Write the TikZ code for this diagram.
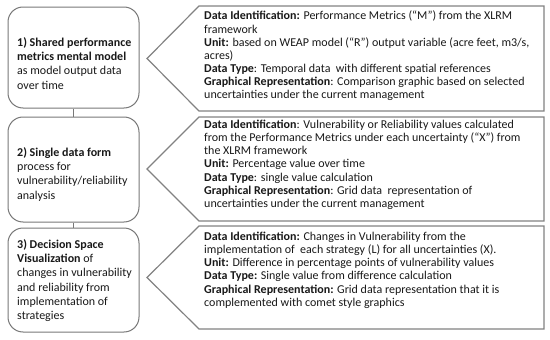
\documentclass[tikz,border=0pt]{standalone}
\usepackage{fontspec}
\setmainfont{Carlito}
\begin{document}
\begin{tikzpicture}[x=1pt,y=-1pt,
  leftbox/.style={draw={rgb,255:red,120;green,120;blue,120}, line width=1pt, rounded corners=15pt, fill=white, inner sep=0pt},
  lefttext/.style={anchor=north west, inner sep=0pt, align=left, font=\fontsize{12}{14.3}\selectfont, text=black!90},
  callout/.style={draw={rgb,255:red,130;green,130;blue,130}, line width=1.2pt, line join=miter, fill=white},
  rtext/.style={anchor=north west, inner sep=0pt, align=left, font=\fontsize{12}{13.1}\selectfont, text=black!90},
  link/.style={draw={rgb,255:red,120;green,120;blue,120}, line width=1pt}]
\useasboundingbox (0,0) rectangle (550,340);

% left boxes
\node[leftbox, minimum width=131pt, minimum height=101pt] (b1) at (73.5,57.5) {};
\node[leftbox, minimum width=131pt, minimum height=105pt] (b2) at (73.5,169.5) {};
\node[leftbox, minimum width=131pt, minimum height=104pt] (b3) at (73.5,280) {};
\draw[link] (b1.south) -- (b2.north);
\draw[link] (b2.south) -- (b3.north);

\node[lefttext] (t1) at (17,37) {\textbf{1) Shared performance}\\\textbf{metrics mental model}\\as model output data\\over time};
\node[lefttext] (t2) at (17,147) {\textbf{2) Single data form}\\process for\\vulnerability/reliability\\analysis};
\node[lefttext] (t3) at (17,239) {\textbf{3) Decision Space}\\\textbf{Visualization} of\\changes in vulnerability\\and reliability from\\implementation of\\strategies};

% callouts
\coordinate (p1) at (147,58.5);
\coordinate (p2) at (147,169);
\coordinate (p3) at (147,277.5);
\draw[callout] (p1) -- (199,6) -- (544,6) -- (544,111) -- (199,111) -- cycle;
\draw[callout] (p2) -- (199,117) -- (544,117) -- (544,221) -- (199,221) -- cycle;
\draw[callout] (p3) -- (199,226) -- (544,226) -- (544,329) -- (199,329) -- cycle;

\node[rtext] (r1) at (204,11) {\textbf{Data Identification:} Performance Metrics (“M”) from the XLRM\\framework\\\textbf{Unit:} based on WEAP model (“R”) output variable (acre feet, m3/s,\\acres)\\\textbf{Data Type}: Temporal data\ \ with different spatial references\\\textbf{Graphical Representation}: Comparison graphic based on selected\\uncertainties under the current management};
\node[rtext] (r2) at (204,120) {\textbf{Data Identification}: Vulnerability or Reliability values calculated\\from the Performance Metrics under each uncertainty (“X”) from\\the XLRM framework\\\textbf{Unit:} Percentage value over time\\\textbf{Data Type}: single value calculation\\\textbf{Graphical Representation}: Grid data\ \ representation of\\uncertainties under the current management};
\node[rtext] (r3) at (204,232) {\textbf{Data Identification:} Changes in Vulnerability from the\\implementation of\ \ each strategy (L) for all uncertainties (X).\\\textbf{Unit:} Difference in percentage points of vulnerability values\\\textbf{Data Type:} Single value from difference calculation\\\textbf{Graphical Representation:} Grid data representation that it is\\complemented with comet style graphics};
\end{tikzpicture}
\end{document}
